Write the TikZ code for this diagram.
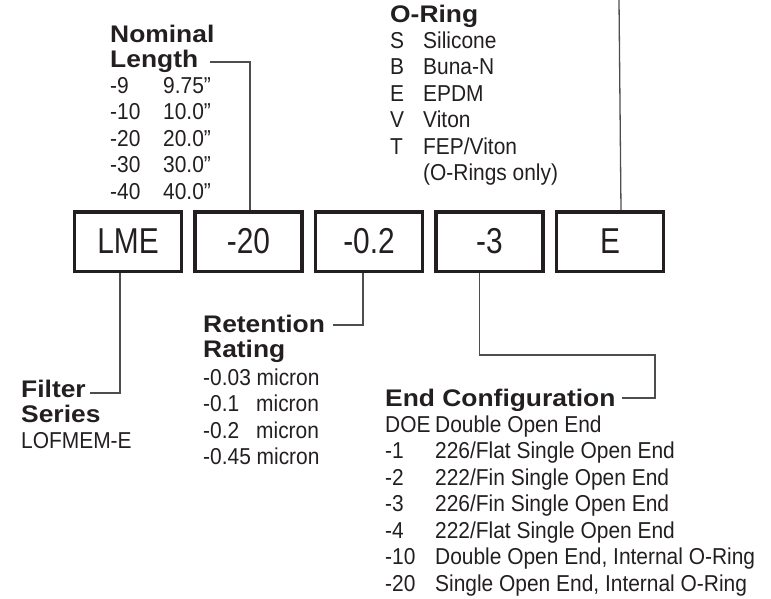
\documentclass[tikz,border=0pt]{standalone}
\usepackage{fontspec}
\setmainfont{Liberation Sans}[FakeStretch=0.91]
\newfontfamily\headfont{Liberation Sans}[FakeStretch=1.1]
\newfontfamily\boxfont{Liberation Sans}[FakeStretch=0.83]
\usepackage{xcolor}
\usepackage{tikz}
\usetikzlibrary{positioning}

\definecolor{ink}{HTML}{231F20}
\definecolor{leader}{HTML}{4D4D4F}

\begin{document}
\begin{tikzpicture}[x=1pt, y=-1pt,
    % Styles
    codebox/.style={
        rectangle,
        draw=ink,
        line width=3.5pt,
        minimum width=107pt,
        minimum height=59.5pt,
        inner sep=0pt,
        text=ink,
        font=\boxfont\fontsize{36}{36}\selectfont
    },
    heading/.style={
        anchor=base west,
        inner sep=0pt,
        text=ink,
        font=\headfont\bfseries\fontsize{24}{25}\selectfont
    },
    listing/.style={
        anchor=base west,
        inner sep=0pt,
        text=ink,
        font=\fontsize{23}{26.5}\selectfont
    },
    leaderline/.style={draw=leader, line width=1.3pt}
]
\useasboundingbox (0,0) rectangle (771,598);

% Part number boxes
\node[codebox] (lme) at (128, 241.5) {LME};
\node[codebox, right=10pt of lme] (len) {-20};
\node[codebox, right=10pt of len] (ret) {-0.2};
\node[codebox, right=10pt of ret] (endc) {-3};
\node[codebox, right=10pt of endc] (oring) {E};

% Filter series
\node[heading] (filterhead) at (21, 397) {\begin{tabular}[t]{@{}l@{}}Filter\\Series\end{tabular}};
\node[listing] (filterlist) at (21, 448) {LOFMEM-E};
\coordinate (filterend) at (90, 393);

% Nominal length
\node[heading] (lenhead) at (110, 42) {\begin{tabular}[t]{@{}l@{}}Nominal\\Length\end{tabular}};
\node[listing] (lenlist) at (110, 93) {\begin{tabular}[t]{@{}p{53pt}@{}l@{}}
    -9 & 9.75"\\
    -10 & 10.0"\\
    -20 & 20.0"\\
    -30 & 30.0"\\
    -40 & 40.0"
\end{tabular}};
\coordinate (lenend) at (210, 62);

% Retention rating
\node[heading] (rethead) at (203, 332) {\begin{tabular}[t]{@{}l@{}}Retention\\Rating\end{tabular}};
\node[listing] (retlist) at (203, 385) {\begin{tabular}[t]{@{}l@{}}
    -0.03 micron\\
    \makebox[53pt][l]{-0.1}micron\\
    \makebox[53pt][l]{-0.2}micron\\
    -0.45 micron
\end{tabular}};
\coordinate (retend) at (333, 325);

% End configuration
\node[heading] (endhead) at (385, 406) {End Configuration};
\node[listing] (endlist) at (385, 432) {\begin{tabular}[t]{@{}p{50pt}@{}l@{}}
    DOE & Double Open End\\
    -1 & 226/Flat Single Open End\\
    -2 & 222/Fin Single Open End\\
    -3 & 226/Fin Single Open End\\
    -4 & 222/Flat Single Open End\\
    -10 & Double Open End, Internal O-Ring\\
    -20 & Single Open End, Internal O-Ring
\end{tabular}};
\coordinate (endend) at (622, 398);
\coordinate (endturn) at (655, 355);

% O-Ring
\node[heading] (oringhead) at (390, 22) {O-Ring};
\node[listing] (oringlist) at (390, 48) {\begin{tabular}[t]{@{}p{33pt}@{}l@{}}
    S & Silicone\\
    B & Buna-N\\
    E & EPDM\\
    V & Viton\\
    T & FEP/Viton\\
      & (O-Rings only)
\end{tabular}};
\coordinate (oringend) at (619, 0);

% Leaders
\draw[leaderline] ([xshift=-8pt]lme.south) |- (filterend);
\draw[leaderline] ([xshift=1.5pt]len.north) |- (lenend);
\draw[leaderline] ([xshift=-6pt]ret.south) |- (retend);
\draw[leaderline] ([xshift=-10pt]endc.south) |- (endturn) |- (endend);
\draw[leaderline] ([xshift=11pt]oring.north) -- (oringend);

\end{tikzpicture}
\end{document}
